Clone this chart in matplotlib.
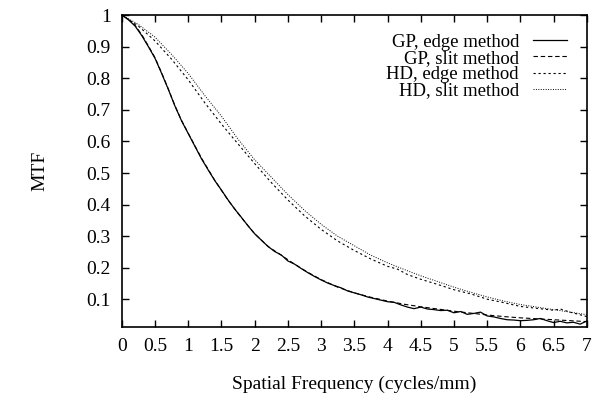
import matplotlib
matplotlib.use("Agg")
import matplotlib.pyplot as plt

gp_edge_x = [0, 0.1, 0.2, 0.3, 0.4, 0.5, 0.6, 0.7, 0.8, 0.9, 1.0, 1.1, 1.2, 1.3, 1.4, 1.5, 1.6, 1.7,
             1.8, 1.9, 2.0, 2.1, 2.2, 2.3, 2.4, 2.5, 2.6, 2.7, 2.8, 2.9, 3.0, 3.1, 3.2, 3.3, 3.4, 3.5,
             3.6, 3.7, 3.8, 3.9, 4.0, 4.1, 4.2, 4.3, 4.4, 4.5, 4.6, 4.7, 4.8, 4.9, 5.0, 5.1, 5.2, 5.3,
             5.4, 5.5, 5.6, 5.7, 5.8, 5.9, 6.0, 6.1, 6.2, 6.3, 6.4, 6.5, 6.6, 6.7, 6.8, 6.9, 7.0]
gp_edge_y = [1.0, 0.985, 0.965, 0.935, 0.9, 0.863, 0.815, 0.765, 0.712, 0.665, 0.625, 0.585, 0.545,
             0.51, 0.476, 0.446, 0.415, 0.386, 0.36, 0.333, 0.308, 0.288, 0.268, 0.252, 0.241, 0.222,
             0.212, 0.198, 0.185, 0.173, 0.162, 0.152, 0.144, 0.137, 0.127, 0.121, 0.115, 0.108,
             0.103, 0.098, 0.093, 0.091, 0.083, 0.076, 0.071, 0.076, 0.07, 0.068, 0.065, 0.066, 0.058,
             0.062, 0.053, 0.056, 0.06, 0.048, 0.045, 0.04, 0.036, 0.035, 0.033, 0.034, 0.036, 0.04,
             0.033, 0.027, 0.031, 0.026, 0.028, 0.022, 0.032]

gp_slit_x = [0, 0.1, 0.2, 0.3, 0.4, 0.5, 0.6, 0.7, 0.8, 0.9, 1.0, 1.2, 1.4, 1.6, 1.8, 2.0, 2.2, 2.4,
             2.6, 2.8, 3.0, 3.25, 3.5, 3.75, 4.0, 4.25, 4.5, 4.75, 5.0, 5.25, 5.5, 5.75, 6.0, 6.25,
             6.5, 6.75, 7.0]
gp_slit_y = [1.0, 0.986, 0.967, 0.938, 0.902, 0.865, 0.817, 0.766, 0.713, 0.666, 0.626, 0.547, 0.477,
             0.414, 0.359, 0.308, 0.268, 0.24, 0.212, 0.186, 0.163, 0.139, 0.121, 0.107, 0.095,
             0.085, 0.077, 0.07, 0.063, 0.057, 0.051, 0.046, 0.042, 0.039, 0.036, 0.033, 0.03]

hd_edge_x = [0, 0.25, 0.5, 0.75, 1.0, 1.25, 1.5, 1.75, 2.0, 2.25, 2.5, 2.75, 3.0, 3.25, 3.5, 3.75,
             4.0, 4.15, 4.3, 4.5, 4.75, 5.0, 5.25, 5.5, 5.75, 6.0, 6.25, 6.5, 6.6, 6.75, 7.0]
hd_edge_y = [1.0, 0.965, 0.918, 0.86, 0.795, 0.722, 0.655, 0.592, 0.53, 0.47, 0.415, 0.365, 0.322,
             0.285, 0.255, 0.228, 0.205, 0.196, 0.179, 0.164, 0.148, 0.131, 0.118, 0.101, 0.09, 0.078,
             0.072, 0.066, 0.07, 0.06, 0.046]

hd_slit_x = [0, 0.25, 0.5, 0.75, 1.0, 1.25, 1.5, 1.75, 2.0, 2.25, 2.5, 2.75, 3.0, 3.25, 3.5, 3.75,
             4.0, 4.25, 4.5, 4.75, 5.0, 5.25, 5.5, 5.75, 6.0, 6.25, 6.5, 6.75, 7.0]
hd_slit_y = [1.0, 0.97, 0.93, 0.875, 0.815, 0.745, 0.68, 0.607, 0.542, 0.487, 0.432, 0.382, 0.338,
             0.3, 0.27, 0.24, 0.216, 0.195, 0.175, 0.157, 0.139, 0.123, 0.108, 0.095, 0.084, 0.076,
             0.068, 0.06, 0.052]

x_ticks = [0, 0.5, 1, 1.5, 2, 2.5, 3, 3.5, 4, 4.5, 5, 5.5, 6, 6.5, 7]
x_tick_labels = ["0", "0.5", "1", "1.5", "2", "2.5", "3", "3.5", "4", "4.5", "5", "5.5", "6", "6.5", "7"]
y_ticks = [0.1, 0.2, 0.3, 0.4, 0.5, 0.6, 0.7, 0.8, 0.9, 1.0]
y_tick_labels = ["0.1", "0.2", "0.3", "0.4", "0.5", "0.6", "0.7", "0.8", "0.9", "1"]

plt.rcParams['font.family'] = ['Liberation Serif', 'DejaVu Serif']
fig = plt.figure(figsize=(6, 4), dpi=100)
ax = fig.add_axes([0.203, 0.1825, 0.775, 0.78])

ax.plot(gp_edge_x, gp_edge_y, color='black', lw=0.9, ls='-', label='GP, edge method')
ax.plot(gp_slit_x, gp_slit_y, color='black', lw=0.8, ls=(0, (4, 2.5)), label='GP, slit method')
ax.plot(hd_edge_x, hd_edge_y, color='black', lw=0.8, ls=(0, (2, 2.5)), label='HD, edge method')
ax.plot(hd_slit_x, hd_slit_y, color='black', lw=0.7, ls=(0, (1, 1.5)), label='HD, slit method')

ax.set_xlim(0, 7)
ax.set_ylim(0.013, 1.0)
ax.set_xticks(x_ticks)
ax.set_xticklabels(x_tick_labels)
ax.set_yticks(y_ticks)
ax.set_yticklabels(y_tick_labels)
ax.tick_params(direction='in', top=True, right=True, length=5, width=1, labelsize=14, pad=8)
for s in ax.spines.values():
    s.set_linewidth(1.2)

ax.set_xlabel('Spatial Frequency (cycles/mm)', fontsize=14, labelpad=15)
ax.set_ylabel('MTF', fontsize=14, rotation=90, labelpad=27)

leg = ax.legend(loc='upper right', frameon=False, fontsize=13.5, markerfirst=False,
                handlelength=1.8, handletextpad=0.75, labelspacing=-0.05,
                borderpad=0, borderaxespad=0, bbox_to_anchor=(0.957, 0.94))
for t in leg.get_texts():
    t.set_ha('right')

fig.savefig('out.png', dpi=100)
